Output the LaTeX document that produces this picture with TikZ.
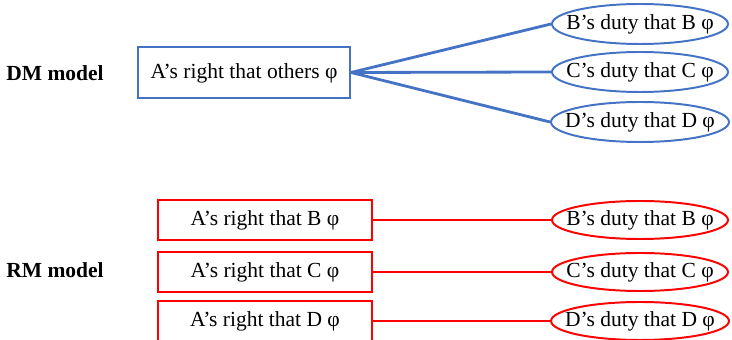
\documentclass[tikz,border=0pt]{standalone}
\usepackage{fontspec}
\setmainfont{Liberation Serif}
\usetikzlibrary{shapes}

\definecolor{dmblue}{RGB}{68,114,196}
\definecolor{rmred}{RGB}{255,0,0}

\tikzset{
  txt/.style={font=\fontsize{15.3}{18}\selectfont,text height=0.85em,text depth=0pt,align=center},
  rightbox/.style={txt,shape=rectangle,draw=#1,line width=1.4pt,inner sep=0pt,minimum height=1cm,minimum width=5.35cm},
  dutyell/.style={txt,shape=ellipse,draw=#1,line width=1.4pt,inner xsep=-0.3cm,inner ysep=0pt,minimum width=4.4cm,minimum height=1cm},
  link/.style={-,draw=#1,line width=2pt},
  model/.style={font=\fontsize{15.3}{18}\selectfont\bfseries}
}

\begin{document}
\begin{tikzpicture}
\useasboundingbox (0,0) rectangle (18.3,-8.5);

\node[model] (dm) at (1.375,-1.825) {DM model};
\node[model] (rm) at (1.375,-6.75) {RM model};

% DM model
\node[rightbox=dmblue,minimum width=5.3cm,minimum height=1.275cm] (ar) at (6.1,-1.8125) {A’s right that others φ};
\node[dutyell=dmblue] (bd) at (16.0,-0.6) {B’s duty that B φ};
\node[dutyell=dmblue] (cd) at (16.0,-1.8) {C’s duty that C φ};
\node[dutyell=dmblue] (dd) at (16.0,-3.05) {D’s duty that D φ};

\path [link=dmblue] (ar.east) edge node {} (bd.west);
\path [link=dmblue] (ar.east) edge node {} (cd.west);
\path [link=dmblue] (ar.east) edge node {} (dd.west);

% RM model
\node[rightbox=rmred] (arb) at (6.625,-5.5) {A’s right that B φ};
\node[rightbox=rmred] (arc) at (6.625,-6.8) {A’s right that C φ};
\node[rightbox=rmred] (ard) at (6.625,-8.025) {A’s right that D φ};
\node[dutyell=rmred,minimum height=0.95cm] (bdr) at (16.0,-5.5) {B’s duty that B φ};
\node[dutyell=rmred,minimum height=0.95cm] (cdr) at (16.0,-6.8) {C’s duty that C φ};
\node[dutyell=rmred,minimum height=0.95cm] (ddr) at (16.0,-8.025) {D’s duty that D φ};

\path [link=rmred] (arb) edge node {} (bdr);
\path [link=rmred] (arc) edge node {} (cdr);
\path [link=rmred] (ard) edge node {} (ddr);
\end{tikzpicture}
\end{document}
